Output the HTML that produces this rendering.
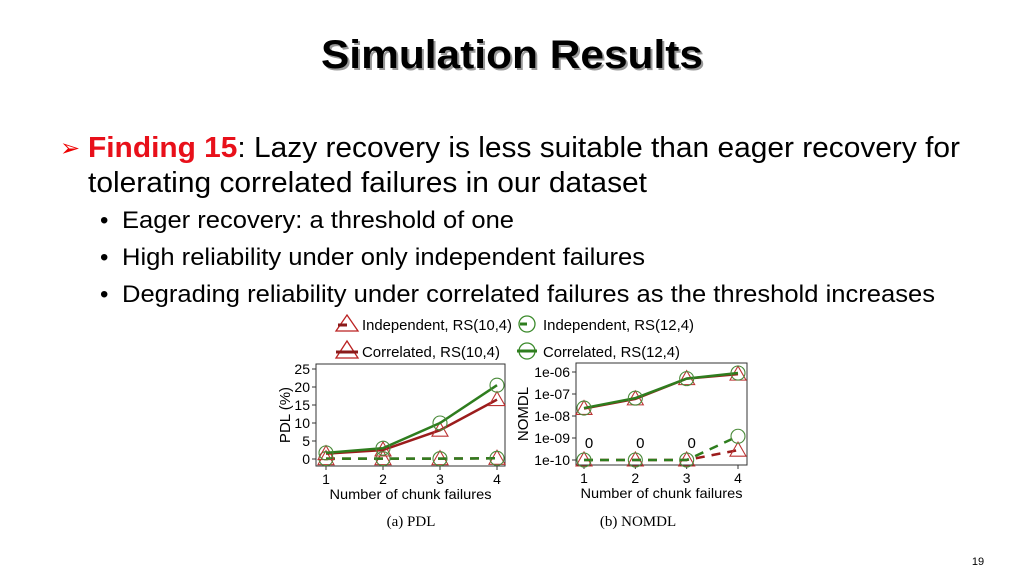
<!DOCTYPE html>
<html><head><meta charset="utf-8"><style>
html,body{margin:0;padding:0;background:#fff}
svg{display:block}
text{font-family:"Liberation Sans",sans-serif}
</style></head><body>
<svg id="s" width="1024" height="576" viewBox="0 0 1024 576" xmlns="http://www.w3.org/2000/svg">
<g>
<text x="514" y="70" font-size="40" font-weight="bold" text-anchor="middle" fill="#999" textLength="382" lengthAdjust="spacingAndGlyphs">Simulation Results</text>
<text x="512" y="68" font-size="40" font-weight="bold" text-anchor="middle" fill="#000" textLength="382" lengthAdjust="spacingAndGlyphs">Simulation Results</text>
</g>
<text x="60" y="156" font-size="24" fill="#e00">➢</text>
<text x="88" y="157" font-size="29" fill="#000" textLength="872" lengthAdjust="spacingAndGlyphs"><tspan fill="#e8101a" font-weight="bold">Finding 15</tspan>: Lazy recovery is less suitable than eager recovery for</text>
<text x="88" y="192" font-size="29" fill="#000" textLength="559" lengthAdjust="spacingAndGlyphs">tolerating correlated failures in our dataset</text>
<g font-size="24" fill="#000">
<text x="100" y="228">•</text><text x="122" y="228" textLength="392" lengthAdjust="spacingAndGlyphs">Eager recovery: a threshold of one</text>
<text x="100" y="265">•</text><text x="122" y="265" textLength="523" lengthAdjust="spacingAndGlyphs">High reliability under only independent failures</text>
<text x="100" y="302">•</text><text x="122" y="302" textLength="813" lengthAdjust="spacingAndGlyphs">Degrading reliability under correlated failures as the threshold increases</text>
</g>
<g id="legend" font-size="15" fill="#000">
<g>
<polygon points="336,331 347,315 358,331" fill="none" stroke="#b22" stroke-width="1.3"/><line x1="338" y1="325" x2="347" y2="325" stroke="#8b1a1a" stroke-width="3"/>
<text x="362" y="330" textLength="150" lengthAdjust="spacingAndGlyphs">Independent, RS(10,4)</text></g>
<g>
<circle cx="527" cy="324" r="8" fill="none" stroke="#3a8a2a" stroke-width="1.3"/><line x1="520" y1="324" x2="527" y2="324" stroke="#2e7d1e" stroke-width="3"/>
<text x="543" y="330" textLength="151" lengthAdjust="spacingAndGlyphs">Independent, RS(12,4)</text></g>
<g>
<polygon points="336,358 347,341 358,358" fill="none" stroke="#b22" stroke-width="1.3"/><line x1="336" y1="352" x2="358" y2="352" stroke="#8b1a1a" stroke-width="3"/>
<text x="362" y="357" textLength="138" lengthAdjust="spacingAndGlyphs">Correlated, RS(10,4)</text></g>
<g>
<circle cx="527" cy="351" r="8" fill="none" stroke="#3a8a2a" stroke-width="1.3"/><line x1="517" y1="351" x2="537" y2="351" stroke="#2e7d1e" stroke-width="3"/>
<text x="543" y="357" textLength="137" lengthAdjust="spacingAndGlyphs">Correlated, RS(12,4)</text></g>
</g>
<g id="pdl"></g>
<g id="nomdl"></g>
<text x="411" y="526" font-size="15" text-anchor="middle" font-family="Liberation Serif" style="font-family:'Liberation Serif',serif">(a) PDL</text>
<text x="638" y="526" font-size="15" text-anchor="middle" style="font-family:'Liberation Serif',serif">(b) NOMDL</text>
<text x="978" y="565" font-size="11" text-anchor="middle">19</text>
</svg>
<script>
const categories = [1, 2, 3, 4];
const pdlCorr10 = [1.5, 2.5, 8, 16.5];
const pdlCorr12 = [1.7, 3, 10, 20.5];
const pdlInd10 = [0.1, 0.1, 0.1, 0.2];
const pdlInd12 = [0.1, 0.1, 0.1, 0.2];
const pdlTicks = [0, 5, 10, 15, 20, 25];
const nomCorr10 = [2.2e-8, 6e-8, 5e-7, 8e-7];
const nomCorr12 = [2.3e-8, 6.5e-8, 5e-7, 9e-7];
const nomInd10 = [1e-10, 1e-10, 1e-10, 2.8e-10];
const nomInd12 = [1e-10, 1e-10, 1e-10, 1.2e-9];
const nomTicks = [1e-10, 1e-9, 1e-8, 1e-7, 1e-6];
const nomTickLabels = ["1e-10", "1e-09", "1e-08", "1e-07", "1e-06"];
const zeroLabels = ["0", "0", "0"];

const NS = "http://www.w3.org/2000/svg";
function mk(p, tag, attrs, txt) {
  const e = document.createElementNS(NS, tag);
  for (const k in attrs) e.setAttribute(k, attrs[k]);
  if (txt !== undefined) e.textContent = txt;
  p.appendChild(e);
  return e;
}
const RED = "#9b1c1c", GREEN = "#2e7d1e";

function drawChart(g, box, xs, ys, opts) {
  const frame = mk(g, "rect", {x: box.l, y: box.t, width: box.r - box.l, height: box.b - box.t, fill: "none", stroke: "#333", "stroke-width": 1});
  
  
  opts.ticks.forEach((v, i) => {
    const y = ys(v);
    mk(g, "line", {x1: box.l - 4, y1: y, x2: box.l, y2: y, stroke: "#333"});
    const t = mk(g, "text", {x: box.l - 6, y: y + 5, "font-size": 14, "text-anchor": "end"}, opts.tickLabels[i]);
    
    
  });
  categories.forEach(c => {
    const x = xs(c);
    mk(g, "line", {x1: x, y1: box.b, x2: x, y2: box.b + 4, stroke: "#333"});
    const t = mk(g, "text", {x: x, y: box.b + 18, "font-size": 14, "text-anchor": "middle"}, String(c));
    
    
  });
  const xt = mk(g, "text", {x: (box.l + box.r) / 2 + opts.xtOff, y: box.b + 33, "font-size": 14, "text-anchor": "middle", textLength: 162, lengthAdjust: "spacingAndGlyphs"}, "Number of chunk failures");
  
  
  const cy = (box.t + box.b) / 2;
  const yt = mk(g, "text", {x: opts.ytX, y: cy, "font-size": 15, "text-anchor": "middle", transform: `rotate(-90 ${opts.ytX} ${cy})`}, opts.yTitle);
  
  
  opts.series.forEach(s => {
    const pts = s.vals.map((v, i) => xs(categories[i]) + "," + ys(v)).join(" ");
    const line = mk(g, "polyline", {points: pts, fill: "none", stroke: s.color, "stroke-width": 2.5, "stroke-dasharray": s.dash ? "9,7" : "none"});
    
    
    s.vals.forEach((v, i) => {
      const x = xs(categories[i]), y = ys(v);
      let m;
      if (s.marker === "tri") m = mk(g, "polygon", {points: `${x-8},${y+6} ${x},${y-8} ${x+8},${y+6}`, fill: "none", stroke: "#b33", "stroke-width": 1.1});
      else m = mk(g, "circle", {cx: x, cy: y, r: 7, fill: "none", stroke: "#4a8a3a", "stroke-width": 1.1});
      
      
    });
  });
}

const pdlBox = {l: 316, r: 505, t: 364, b: 466};
const px = c => 326 + (c - 1) * (497 - 326) / 3;
const py = v => 459 - v * (459 - 369) / 25;
drawChart(document.getElementById("pdl"), pdlBox, px, py, {
  ticks: pdlTicks, tickLabels: pdlTicks.map(String), yTitle: "PDL (%)", ytX: 290, xtOff: 0,
  series: [
    {name: "independent-rs10", vals: pdlInd10, color: RED, dash: true, marker: "tri"},
    {name: "independent-rs12", vals: pdlInd12, color: GREEN, dash: true, marker: "circ"},
    {name: "correlated-rs10", vals: pdlCorr10, color: RED, dash: false, marker: "tri"},
    {name: "correlated-rs12", vals: pdlCorr12, color: GREEN, dash: false, marker: "circ"}
  ]
});

const nomBox = {l: 576, r: 747, t: 363, b: 465};
const nx = c => 584 + (c - 1) * (738 - 584) / 3;
const ny = v => 460 - (Math.log10(v) + 10) * 22;
const ng = document.getElementById("nomdl");
drawChart(ng, nomBox, nx, ny, {
  ticks: nomTicks, tickLabels: nomTickLabels, yTitle: "NOMDL", ytX: 528, xtOff: 0,
  series: [
    {name: "independent-rs10", vals: nomInd10, color: RED, dash: true, marker: "tri"},
    {name: "independent-rs12", vals: nomInd12, color: GREEN, dash: true, marker: "circ"},
    {name: "correlated-rs10", vals: nomCorr10, color: RED, dash: false, marker: "tri"},
    {name: "correlated-rs12", vals: nomCorr12, color: GREEN, dash: false, marker: "circ"}
  ]
});
zeroLabels.forEach((z, i) => {
  const t = mk(ng, "text", {x: nx(categories[i]) + 5, y: 448, "font-size": 15, "text-anchor": "middle"}, z);
  
  
});
</script>
</body></html>
